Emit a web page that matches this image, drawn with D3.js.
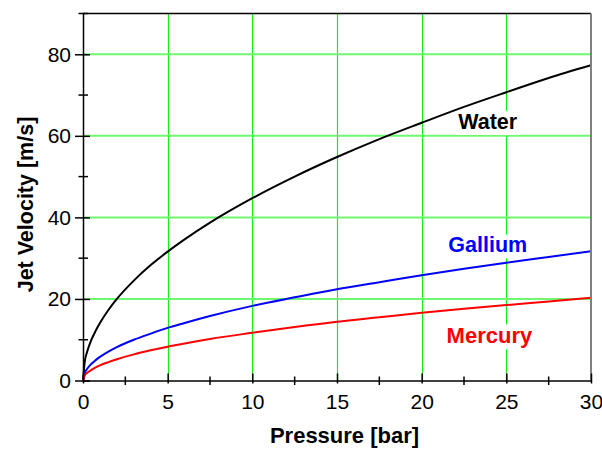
<!DOCTYPE html>
<html>
<head>
<meta charset="utf-8">
<script src="https://cdn.jsdelivr.net/npm/d3@7"></script>
<style>
   body { margin: 0; background: #fff; }
   text { font-family: "Liberation Sans", Arial, sans-serif; }
</style>
</head>
<body>
<div id="chart"></div>
<script>
//--------------------------------------------------------------
// DATA
//--------------------------------------------------------------
var pressure = [0, 0.1, 0.25, 0.5, 0.75, 1, 1.5, 2, 3, 4, 5, 6, 7.5, 10, 12.5, 15, 17.5, 20, 22.5, 25, 27.5, 30];
var water    = [0, 4.5, 7.1, 10, 12.2, 14.1, 17.3, 20, 24.5, 28.3, 31.6, 34.6, 38.7, 44.7, 50, 54.8, 59.2, 63.2, 67.1, 70.7, 74.2, 77.3];
var gallium  = [0, 1.8, 2.9, 4.1, 5.0, 5.8, 7.1, 8.2, 10.0, 11.5, 12.9, 14.1, 15.8, 18.3, 20.4, 22.4, 24.1, 25.8, 27.4, 28.9, 30.3, 31.7];
var mercury  = [0, 1.2, 1.9, 2.6, 3.2, 3.7, 4.5, 5.2, 6.4, 7.4, 8.3, 9.1, 10.2, 11.7, 13.1, 14.4, 15.5, 16.6, 17.6, 18.5, 19.4, 20.3];

var xTicks = [0, 5, 10, 15, 20, 25, 30];
var xMinorTicks = [2.5, 7.5, 12.5, 17.5, 22.5, 27.5];
var yTicks = [0, 20, 40, 60, 80];
var yMinorTicks = [10, 30, 50, 70, 90];

// series label: name, colour, and where it sits in data units
var seriesNames = ["Water", "Gallium", "Mercury"];
var seriesColors = ["#000000", "#0000ff", "#ff0000"];
var labelAt = [[23.9, 61.7], [23.9, 31.4], [24.0, 9.1]];

//--------------------------------------------------------------
// CHART SIZE PARAMETERS
//--------------------------------------------------------------
var width = 602;
var height = 449;
var margin = { top: 13.5, right: 11, bottom: 68.5, left: 83 };
var chartWidth = width - margin.left - margin.right;
var chartHeight = height - margin.top - margin.bottom;

var svg = d3.select("#chart").append("svg")
   .attr("width", width)
   .attr("height", height);

var chartGroup = svg.append("g")
   .attr("transform", `translate(${margin.left}, ${margin.top})`);

var xScale = d3.scaleLinear().domain([0, 30]).range([0, chartWidth]);
var yScale = d3.scaleLinear().domain([0, 90]).range([chartHeight, 0]);

//--------------------------------------------------------------
// GRID
//--------------------------------------------------------------
chartGroup.append("g").selectAll("line")
   .data(xTicks.slice(1, -1))
   .enter().append("line")
   .attr("x1", d => Math.round(xScale(d)) + 0.5)
   .attr("x2", d => Math.round(xScale(d)) + 0.5)
   .attr("y1", 0)
   .attr("y2", chartHeight)
   .attr("stroke", "#14f014")
   .attr("stroke-width", 1.2);

chartGroup.append("g").selectAll("line")
   .data(yTicks.slice(1))
   .enter().append("line")
   .attr("x1", 0)
   .attr("x2", chartWidth)
   .attr("y1", d => yScale(d))
   .attr("y2", d => yScale(d))
   .attr("stroke", "#6ff76f")
   .attr("stroke-width", 2);

//--------------------------------------------------------------
// CURVES
//--------------------------------------------------------------
var allSeries = [water, gallium, mercury];
var line = d3.line()
   .x((d, i) => xScale(pressure[i]))
   .y(d => yScale(d))
   .curve(d3.curveMonotoneX);

//--------------------------------------------------------------
// SERIES LABELS (white box knocks out the grid behind)
//--------------------------------------------------------------
seriesNames.forEach(function(name, i) {
   var g = chartGroup.append("g")
      .attr("transform", `translate(${xScale(labelAt[i][0])}, ${yScale(labelAt[i][1])})`);
   var t = g.append("text")
      .attr("text-anchor", "middle")
      .attr("font-size", i == 2 ? 22 : 21.5)
      .attr("font-weight", "bold")
      .attr("fill", seriesColors[i])
      .text(name);
   var bb = t.node().getBBox();
   g.insert("rect", "text")
      .attr("x", bb.x - 2)
      .attr("y", bb.y + 1)
      .attr("width", bb.width + 4)
      .attr("height", bb.height)
      .attr("fill", "#fff");
});

allSeries.forEach(function(values, i) {
   chartGroup.append("path")
      .datum(values)
      .attr("d", line)
      .attr("fill", "none")
      .attr("stroke", seriesColors[i])
      .attr("stroke-width", 2);
});

//--------------------------------------------------------------
// FRAME + AXES
//--------------------------------------------------------------
chartGroup.append("line")
   .attr("x1", 0).attr("x2", chartWidth)
   .attr("y1", 0).attr("y2", 0)
   .attr("stroke", "#000").attr("stroke-width", 1.5);
chartGroup.append("line")
   .attr("x1", chartWidth).attr("x2", chartWidth)
   .attr("y1", 0).attr("y2", chartHeight)
   .attr("stroke", "#808080").attr("stroke-width", 2);

// x axis: major ticks point in, small bit out
var bottomAxis = d3.axisBottom(xScale)
   .tickValues(xTicks)
   .tickSizeInner(-7)
   .tickSizeOuter(0)
   .tickPadding(17);
var xAxis = chartGroup.append("g")
   .attr("transform", `translate(0, ${chartHeight})`)
   .call(bottomAxis);
xAxis.select(".domain").attr("stroke-width", 1.5);
xAxis.selectAll(".tick line").attr("y2", -7).attr("y1", 3).attr("stroke-width", 1.5);
xAxis.selectAll(".tick text")
   .attr("font-size", 21)
   .attr("font-family", "Liberation Sans, Arial, sans-serif")
   .attr("dy", "0.71em")
   .attr("y", 13.5);
xAxis.selectAll(".minor")
   .data(xMinorTicks)
   .enter().append("line")
   .attr("class", "minor")
   .attr("x1", d => xScale(d)).attr("x2", d => xScale(d))
   .attr("y1", -4).attr("y2", 4.5)
   .attr("stroke", "#000").attr("stroke-width", 1.5);

// y axis
var leftAxis = d3.axisLeft(yScale)
   .tickValues(yTicks)
   .tickSizeInner(8)
   .tickSizeOuter(0)
   .tickPadding(5);
var yAxis = chartGroup.append("g").call(leftAxis);
yAxis.select(".domain").attr("stroke-width", 1.5);
yAxis.selectAll(".tick line").attr("x1", 7).attr("x2", -8).attr("stroke-width", 1.5);
yAxis.selectAll(".tick text")
   .attr("font-size", 21)
   .attr("font-family", "Liberation Sans, Arial, sans-serif")
   .attr("x", -12);
yAxis.selectAll(".minor")
   .data(yMinorTicks)
   .enter().append("line")
   .attr("class", "minor")
   .attr("y1", d => yScale(d)).attr("y2", d => yScale(d))
   .attr("x1", -4.5).attr("x2", 5)
   .attr("stroke", "#000").attr("stroke-width", 1.5);

//--------------------------------------------------------------
// AXIS TITLES
//--------------------------------------------------------------
svg.append("text")
   .attr("x", 344.5)
   .attr("y", 443)
   .attr("text-anchor", "middle")
   .attr("font-size", 22)
   .attr("font-weight", "bold")
   .text("Pressure [bar]");

svg.append("text")
   .attr("transform", "translate(33, 204.5) rotate(-90)")
   .attr("text-anchor", "middle")
   .attr("font-size", 21.5)
   .attr("font-weight", "bold")
   .text("Jet Velocity [m/s]");
</script>
</body>
</html>
